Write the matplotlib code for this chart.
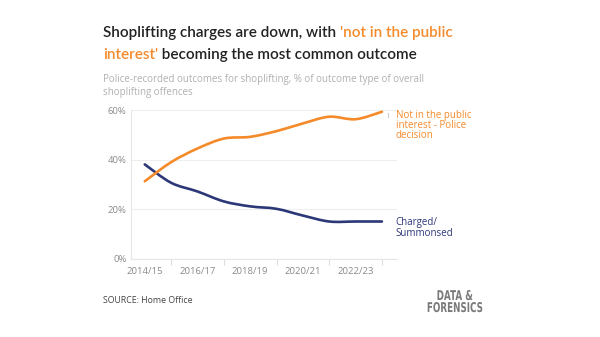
import numpy as np
import matplotlib.pyplot as plt
from matplotlib.path import Path
from matplotlib.patches import PathPatch
from matplotlib.textpath import TextPath
from matplotlib.font_manager import FontProperties
from matplotlib.transforms import Affine2D, IdentityTransform

years = ["2014/15", "2015/16", "2016/17", "2017/18", "2018/19",
         "2019/20", "2020/21", "2021/22", "2022/23", "2023/24"]
not_public_interest = [31.3, 39.0, 44.5, 48.5, 49.2, 51.5, 54.6, 57.3, 56.3, 59.3]
charged_summonsed = [38.1, 30.7, 27.2, 23.2, 21.2, 20.2, 17.5, 15.1, 15.1, 15.1]
yticks = [0, 20, 40, 60]

ORANGE = "#f58a2a"
NAVY = "#2c3778"
GREY = "#8a8a8a"
FONT = ["Open Sans", "DejaVu Sans"]
TITLE_FONT = ["Lato", "DejaVu Sans"]


def smooth_path(x, y, tension=1 / 6):
    # Catmull-Rom spline turned into cubic bezier segments
    x = np.asarray(x, float)
    y = np.asarray(y, float)
    pts = np.column_stack([x, y])
    verts = [pts[0]]
    codes = [Path.MOVETO]
    n = len(pts)
    for i in range(n - 1):
        p0 = pts[max(i - 1, 0)]
        p1 = pts[i]
        p2 = pts[i + 1]
        p3 = pts[min(i + 2, n - 1)]
        c1 = p1 + (p2 - p0) * tension
        c2 = p2 - (p3 - p1) * tension
        verts += [c1, c2, p2]
        codes += [Path.CURVE4] * 3
    return Path(verts, codes)


def text_run(y, parts, size=11.0):
    # draw coloured chunks of one line side by side
    xpos = 0.172
    for s, col in parts:
        t = fig.text(xpos, y, s, fontsize=size, color=col, family=TITLE_FONT,
                     weight="semibold", va="center")
        fig.canvas.draw()
        xpos = t.get_window_extent().x1 / fig.bbox.width


def narrow_text(s, cx, top, size=13.5, squeeze=0.65, color="#7a7a7a"):
    # condensed logo lettering, placed in pixel coords (y from the top)
    prop = FontProperties(family="DejaVu Sans", weight="bold")
    tp = TextPath((0, 0), s, size=size, prop=prop)
    ext = tp.get_extents()
    w = ext.width * squeeze
    h_fig = fig.bbox.height
    tr = (Affine2D().translate(-ext.x0, -ext.y1).scale(squeeze, 1)
          .translate(cx - w / 2, h_fig - top))
    fig.patches.append(PathPatch(tr.transform_path(tp), facecolor=color,
                                 edgecolor="none", transform=IdentityTransform(),
                                 figure=fig))


fig = plt.figure(figsize=(6, 3.37), dpi=100)
ax = fig.add_axes([0.218, 0.2315, 0.444, 0.442])

x = np.arange(len(years))
for vals, col in [(charged_summonsed, NAVY), (not_public_interest, ORANGE)]:
    ax.add_patch(PathPatch(smooth_path(x, vals), facecolor="none",
                           edgecolor=col, lw=1.9, capstyle="round",
                           clip_on=False))

ax.set_xlim(-0.53, 9.58)
ax.set_ylim(0, 60)
ax.set_yticks(yticks)
ax.set_yticklabels([f"{v}%" for v in yticks])
ax.set_xticks(x[::2])
ax.set_xticklabels(years[::2])
ax.set_xticks(x[1::2], minor=True)
ax.tick_params(axis="both", which="both", colors="#dddddd", labelcolor=GREY,
               labelsize=6.8, length=0, pad=3)
ax.tick_params(axis="x", which="minor", length=4, width=0.8)
ax.tick_params(axis="x", which="major", pad=6)
for lab in ax.get_xticklabels() + ax.get_yticklabels():
    lab.set_family(FONT)

ax.grid(axis="y", color="#eeeeee", lw=0.8)
ax.set_axisbelow(True)
for side in ["top", "right"]:
    ax.spines[side].set_visible(False)
for side in ["left", "bottom"]:
    ax.spines[side].set_color("#e6e6e6")
    ax.spines[side].set_linewidth(0.8)

# End-of-line labels
ax.annotate("Not in the public\ninterest - Police\ndecision",
            xy=(x[-1], not_public_interest[-1]), xytext=(10, 1.5),
            textcoords="offset points", color=ORANGE, fontsize=7,
            family=FONT, va="top", ha="left", linespacing=0.9,
            annotation_clip=False)
ax.annotate("Charged/\nSummonsed",
            xy=(x[-1], charged_summonsed[-1]), xytext=(10, 3),
            textcoords="offset points", color=NAVY, fontsize=7,
            family=FONT, va="top", ha="left", linespacing=0.9,
            annotation_clip=False)
ax.plot([x[-1] + 0.22] * 2, [57.0, 59.0], color="#cccccc", lw=0.8,
        clip_on=False)

# Title block
text_run(0.902, [("Shoplifting charges are down, with ", "#222222"),
                 ("'not in the public", ORANGE)])
text_run(0.837, [("interest'", ORANGE),
                 (" becoming the most common outcome", "#222222")])

fig.text(0.172, 0.745, "Police-recorded outcomes for shoplifting, % of outcome "
         "type of overall\nshoplifting offences", fontsize=7, color="#b0b0b0",
         family=FONT, va="center", linespacing=1.25)

fig.text(0.172, 0.108, "SOURCE: Home Office", fontsize=6.3, color="#444444",
         family=FONT, va="center")
narrow_text("DATA &", 455, 290)
narrow_text("FORENSICS", 455, 302)

fig.savefig("out.png", dpi=100, facecolor="white")
